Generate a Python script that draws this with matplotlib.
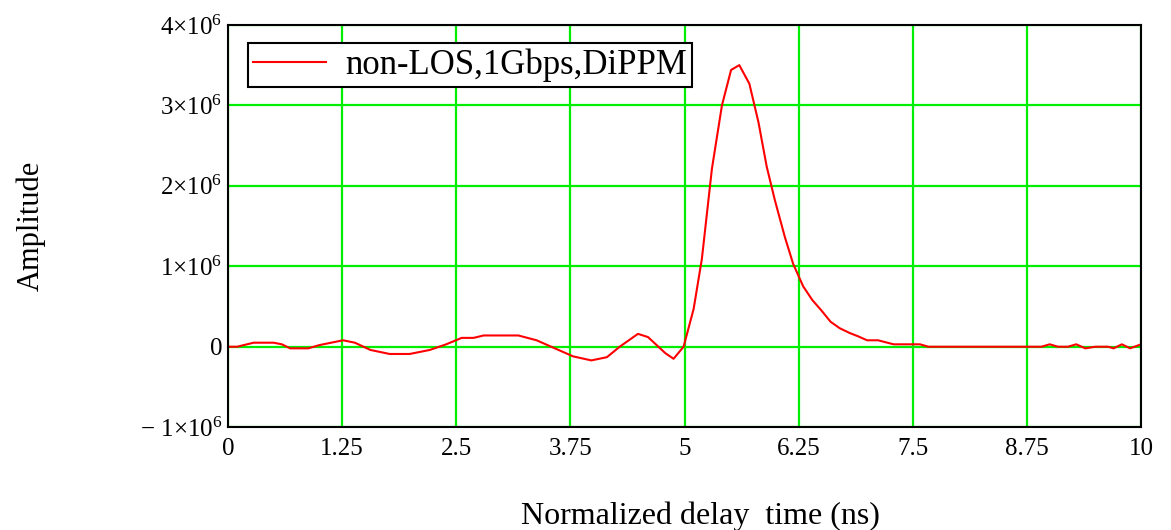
import matplotlib
matplotlib.use('Agg')
import matplotlib.pyplot as plt
from matplotlib.ticker import FixedLocator

# delay time (ns) and amplitude
t = [0.0, 0.1, 0.28, 0.5, 0.59, 0.68, 0.88, 1.0, 1.26, 1.39, 1.56, 1.77, 1.99,
     2.21, 2.39, 2.56, 2.69, 2.8, 3.18, 3.38, 3.56, 3.78, 3.98, 4.15, 4.29,
     4.49, 4.6, 4.79, 4.88, 4.99, 5.1, 5.19, 5.3, 5.41, 5.51, 5.6, 5.71, 5.81,
     5.9, 5.99, 6.1, 6.19, 6.3, 6.4, 6.5, 6.6, 6.7, 6.81, 6.9, 7.0, 7.12,
     7.29, 7.58, 7.67, 8.91, 9.0, 9.09, 9.2, 9.29, 9.39, 9.5, 9.64, 9.7,
     9.79, 9.88, 10.0]
amp = [0.0, 0.0, 0.05, 0.05, 0.03, -0.02, -0.02, 0.02, 0.08, 0.05, -0.04,
       -0.09, -0.09, -0.04, 0.03, 0.11, 0.11, 0.14, 0.14, 0.08, -0.01, -0.12,
       -0.17, -0.13, 0.0, 0.16, 0.12, -0.08, -0.15, 0.0, 0.47, 1.09, 2.21,
       3.0, 3.44, 3.5, 3.27, 2.79, 2.24, 1.82, 1.36, 1.03, 0.75, 0.58, 0.45,
       0.31, 0.23, 0.17, 0.13, 0.08, 0.08, 0.03, 0.03, 0.0, 0.0, 0.03, 0.0,
       0.0, 0.03, -0.02, 0.0, 0.0, -0.02, 0.03, -0.02, 0.03]
amp = [a * 1e6 for a in amp]

x_ticks = [0, 1.25, 2.5, 3.75, 5, 6.25, 7.5, 8.75, 10]
x_labels = ['0', '1.25', '2.5', '3.75', '5', '6.25', '7.5', '8.75', '10']
y_ticks = [-1e6, 0, 1e6, 2e6, 3e6, 4e6]
y_labels = [r'$-\ 1{\times}10^{6}$', '0', r'$1{\times}10^{6}$',
            r'$2{\times}10^{6}$', r'$3{\times}10^{6}$', r'$4{\times}10^{6}$']

plt.rcParams['font.family'] = 'Liberation Serif'
plt.rcParams['mathtext.fontset'] = 'custom'
plt.rcParams['mathtext.rm'] = 'Liberation Serif'
plt.rcParams['mathtext.it'] = 'Liberation Serif'
plt.rcParams['mathtext.default'] = 'rm'

fig = plt.figure(figsize=(11.71, 5.30), dpi=100)
ax = fig.add_axes([0.1947, 0.194, 0.7797, 0.759])

ax.plot(t, amp, color='#ff0000', lw=1.5, label='non-LOS,1Gbps,DiPPM', zorder=3)

ax.set_xlim(0, 10)
ax.set_ylim(-1e6, 4e6)
ax.xaxis.set_major_locator(FixedLocator(x_ticks))
ax.set_xticklabels(x_labels)
ax.yaxis.set_major_locator(FixedLocator(y_ticks))
ax.set_yticklabels(y_labels)
ax.tick_params(length=0, labelsize=18, pad=4)
ax.tick_params(axis='x', pad=8)
ax.grid(True, color='#00ee00', lw=1.6)
ax.set_axisbelow(True)
for s in ax.spines.values():
    s.set_color('black')
    s.set_linewidth(1.5)
    s.set_zorder(4)

ax.set_xlabel('Normalized delay  time (ns)', fontsize=23)
ax.xaxis.set_label_coords(0.517, -0.185)
ax.set_ylabel('Amplitude', fontsize=22)
ax.yaxis.set_label_coords(-0.20, 0.5)

leg = ax.legend(loc='upper left', bbox_to_anchor=(0.022, 0.955), fontsize=25,
                frameon=True, fancybox=False, borderpad=0.15, handlelength=2.1,
                handletextpad=0.55, borderaxespad=0)
leg.get_frame().set_edgecolor('black')
leg.get_frame().set_linewidth(1.5)
leg.get_frame().set_alpha(1)

fig.savefig('out.png', dpi=100)
